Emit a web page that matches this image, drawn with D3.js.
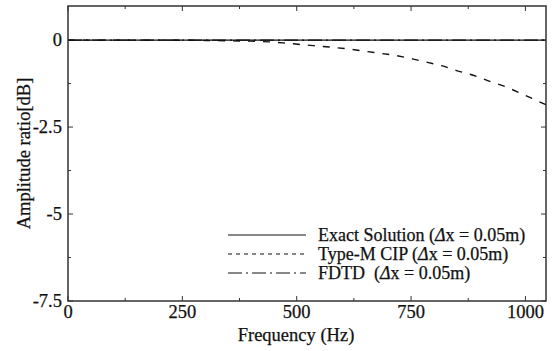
<!DOCTYPE html>
<html>
<head>
<meta charset="utf-8">
<script src="https://cdn.jsdelivr.net/npm/d3@7"></script>
<style>
  body { margin: 0; background: #fff; }
  text { font-family: "Liberation Serif", "Times New Roman", serif; fill: #111; stroke: #111; stroke-width: 0.25; }
</style>
</head>
<body>
<svg id="chart" width="554" height="351"></svg>
<script>
// frequency (Hz) and amplitude ratio (dB)
const exactFreq = [0, 1045];
const exactDb = [0, 0];
const fdtdFreq = [0, 1045];
const fdtdDb = [0, 0];
const cipFreq = [0, 200, 300, 350, 400, 440, 470, 503, 536, 573, 610, 643, 683, 716, 753, 786, 821, 853, 886, 919, 961, 989, 1022, 1045];
const cipDb = [0, 0, -0.01, -0.02, -0.03, -0.05, -0.08, -0.12, -0.16, -0.2, -0.25, -0.31, -0.38, -0.44, -0.54, -0.64, -0.75, -0.89, -1.01, -1.17, -1.36, -1.53, -1.72, -1.86];

const xTicks = [0, 250, 500, 750, 1000];
const yTicks = [0, -2.5, -5, -7.5];
const xMinor = [125, 375, 625, 875];
const yMinor = [-1.25, -3.75, -6.25];

const legendLabels = ["Exact Solution ", "Type-M CIP ", "FDTD\u00a0\u00a0"];

const svg = d3.select("#chart");
const m = {left: 68, right: 546, top: 6, bottom: 301};
const fs = 18.5;

const x = d3.scaleLinear().domain([0, 1045]).range([m.left, m.right]);
const y = d3.scaleLinear().domain([-7.5, 0.98]).range([m.bottom, m.top]);

// ticks (inward, all four sides)
const tickG = svg.append("g").attr("stroke", "#333").attr("stroke-width", 1);
const drawX = (vals, len) => vals.forEach(v => {
    tickG.append("line").attr("x1", x(v)).attr("x2", x(v)).attr("y1", m.bottom).attr("y2", m.bottom - len);
    tickG.append("line").attr("x1", x(v)).attr("x2", x(v)).attr("y1", m.top).attr("y2", m.top + len);
});
const drawY = (vals, len) => vals.forEach(v => {
    tickG.append("line").attr("y1", y(v)).attr("y2", y(v)).attr("x1", m.left).attr("x2", m.left + len);
    tickG.append("line").attr("y1", y(v)).attr("y2", y(v)).attr("x1", m.right).attr("x2", m.right - len);
});
drawX(xTicks, 5);
drawX(xMinor, 3);
drawY(yTicks, 5);
drawY(yMinor, 3);

// data lines
const line = (fx, fy) => d3.line().x((d, i) => x(fx[i])).y((d, i) => y(fy[i]))(fx);

svg.append("path")
    .attr("d", line(cipFreq, cipDb))
    .attr("fill", "none")
    .attr("stroke", "#111")
    .attr("stroke-width", 1.4)
    .attr("stroke-dasharray", "7,8");

svg.append("path")
    .attr("d", line(fdtdFreq, fdtdDb))
    .attr("fill", "none")
    .attr("stroke", "#111")
    .attr("stroke-width", 1.2)
    .attr("stroke-dasharray", "14,4,2,4");

svg.append("path")
    .attr("d", line(exactFreq, exactDb))
    .attr("fill", "none")
    .attr("stroke", "#111")
    .attr("stroke-width", 1.2);

// frame
svg.append("rect")
    .attr("x", m.left).attr("y", m.top)
    .attr("width", m.right - m.left).attr("height", m.bottom - m.top)
    .attr("fill", "none").attr("stroke", "#333").attr("stroke-width", 1.5);

// tick labels
svg.selectAll(".xl").data(xTicks).join("text")
    .attr("x", d => x(d)).attr("y", 318)
    .attr("text-anchor", "middle")
    .attr("font-size", fs)
    .text(d => d);

svg.selectAll(".yl").data(yTicks).join("text")
    .attr("x", 62).attr("y", d => y(d) + 6)
    .attr("text-anchor", "end")
    .attr("font-size", fs)
    .text(d => d);

// axis titles
svg.append("text")
    .attr("x", 296).attr("y", 341)
    .attr("text-anchor", "middle")
    .attr("font-size", fs)
    .text("Frequency (Hz)");

svg.append("text")
    .attr("transform", `translate(30,${(m.top + m.bottom) / 2}) rotate(-90)`)
    .attr("text-anchor", "middle")
    .attr("font-size", fs)
    .text("Amplitude ratio[dB]");

// legend
const dashes = [null, "4,4", "14,4,2,4"];
const lg = svg.append("g");
legendLabels.forEach((lab, i) => {
    const ly = 235 + i * 19;
    lg.append("line")
        .attr("x1", 228).attr("x2", 306).attr("y1", ly).attr("y2", ly)
        .attr("stroke", "#111").attr("stroke-width", 1.2)
        .attr("stroke-dasharray", dashes[i]);
    const t = lg.append("text")
        .attr("x", 318).attr("y", ly + 6)
        .attr("font-size", 18);
    t.append("tspan").text(lab + "(");
    t.append("tspan").attr("font-style", "italic").text("\u0394");
    t.append("tspan").text("x = 0.05m)");
});
</script>
</body>
</html>
